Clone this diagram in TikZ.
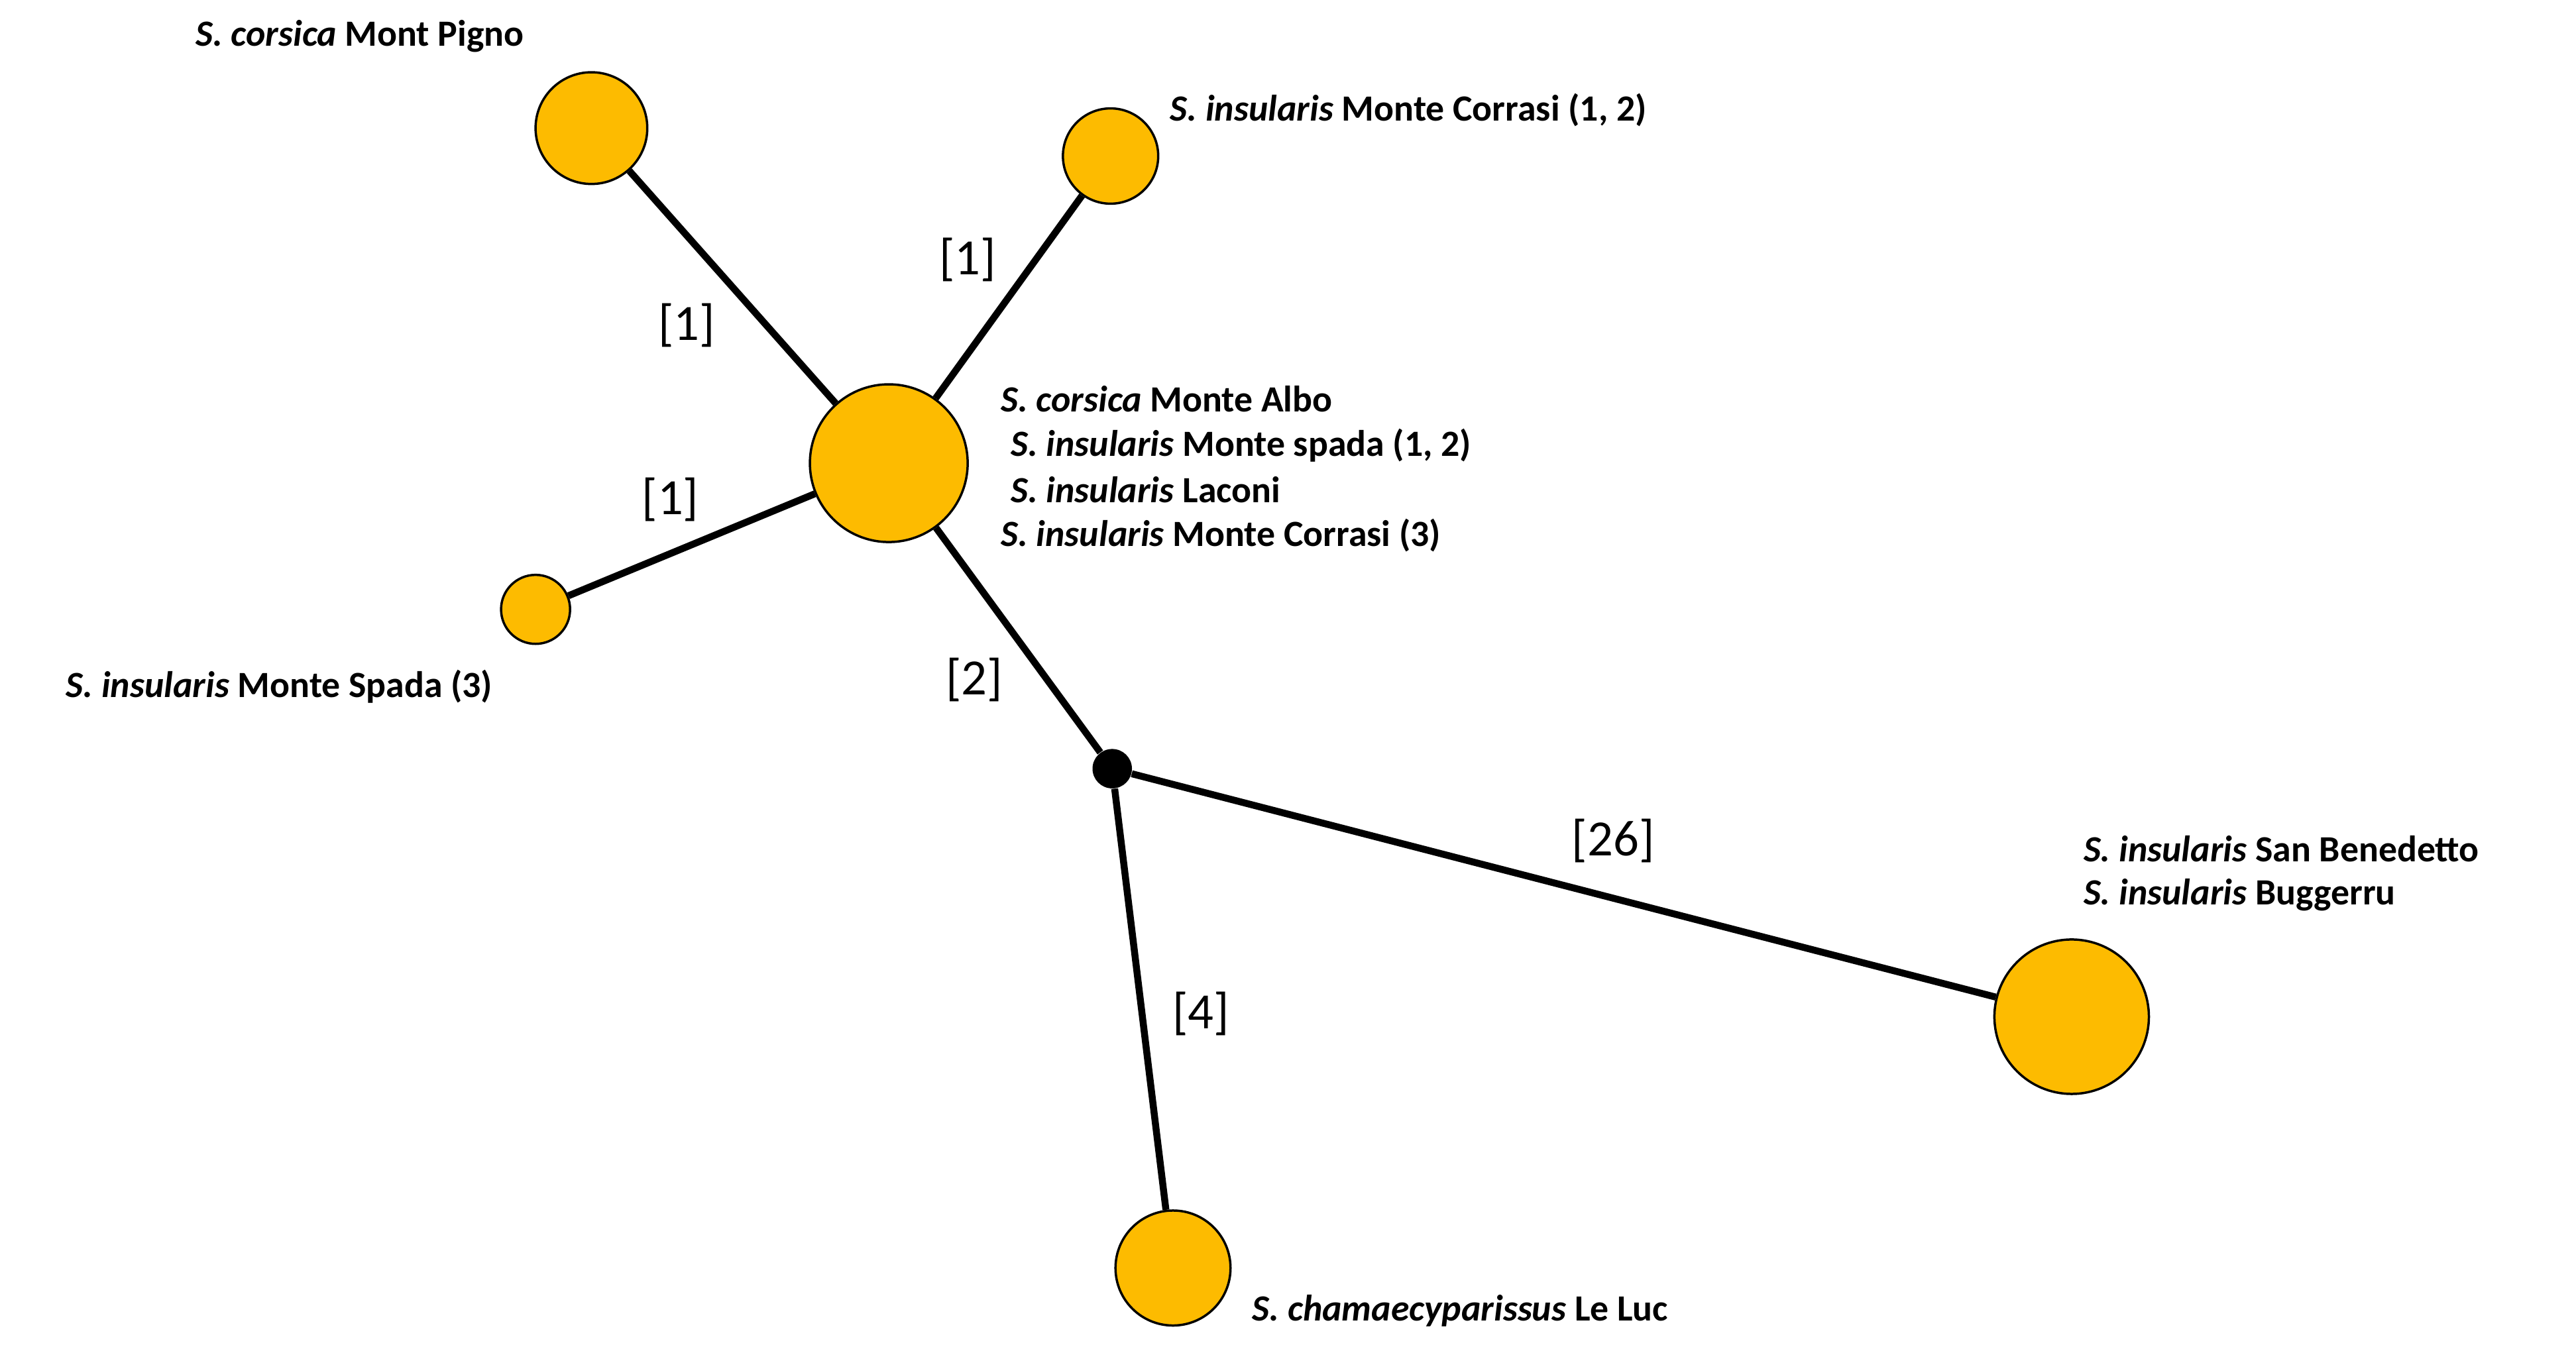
\documentclass[tikz,border=0pt]{standalone}
\usepackage{fontspec}
\setmainfont{Carlito}
\definecolor{gold}{HTML}{FDBB00}
\begin{document}
\begin{tikzpicture}[x=0.025cm,y=-0.025cm,
  hap/.style={circle,draw=black,line width=1pt,fill=gold,inner sep=0pt,minimum size=#1},
  edge/.style={line width=3pt},
  el/.style={font=\fontsize{22}{26}\selectfont},
  lab/.style={font=\fontsize{16}{19}\selectfont\bfseries,inner sep=0pt}]
\useasboundingbox (0,0) rectangle (1568,821);
\node[hap=2.4cm] (main) at (541,282) {};
\node[hap=1.7cm] (pigno) at (360,78) {};
\node[hap=1.45cm] (corr) at (676,95) {};
\node[hap=1.05cm] (spada) at (326,371) {};
\node[circle,fill=black,inner sep=0pt,minimum size=0.6cm] (hub) at (677,468) {};
\node[hap=2.35cm] (sanb) at (1261,619) {};
\node[hap=1.75cm] (luc) at (714,772) {};
\draw[edge] (main) -- (pigno);
\draw[edge] (main) -- (corr);
\draw[edge] (main) -- (spada);
\draw[edge] (main) -- (hub);
\draw[edge] (hub) -- (sanb);
\draw[edge] (hub) -- (luc);
\node[el] (e1) at (418,198) {[1]};
\node[el] (e2) at (589,158) {[1]};
\node[el] (e3) at (408,304) {[1]};
\node[el] (e4) at (593,414) {[2]};
\node[el] (e5) at (982,512) {[26]};
\node[el] (e6) at (731,617) {[4]};
\node[lab] (l1) at (219,22) {\textit{S. corsica} Mont Pigno};
\node[lab,anchor=west] (l2) at (712,67) {\textit{S. insularis} Monte Corrasi (1, 2)};
\node[lab,anchor=west] (l3) at (609,243) {\textit{S. corsica} Monte Albo};
\node[lab,anchor=west] (l4) at (615,271) {\textit{S. insularis} Monte spada (1, 2)};
\node[lab,anchor=west] (l5) at (615,298) {\textit{S. insularis} Laconi};
\node[lab,anchor=west] (l6) at (609,326) {\textit{S. insularis} Monte Corrasi (3)};
\node[lab] (l7) at (170,418) {\textit{S. insularis} Monte Spada (3)};
\node[lab,anchor=west] (l8) at (1268,517) {\textit{S. insularis} San Benedetto};
\node[lab,anchor=west] (l9) at (1268,545) {\textit{S. insularis} Buggerru};
\node[lab,anchor=west] (l10) at (762,798) {\textit{S. chamaecyparissus} Le Luc};
\end{tikzpicture}
\end{document}
